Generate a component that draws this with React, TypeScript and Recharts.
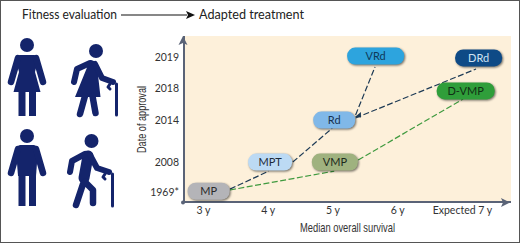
import React from 'react';
import { ScatterChart, Scatter, XAxis, YAxis, CartesianGrid } from 'recharts';

// x = median overall survival in years, y = position on the (uneven) approval date axis
const survivalTicks = [3, 4, 5, 6, 7];
const survivalLabels = ['3 y', '4 y', '5 y', '6 y', 'Expected 7 y'];
const approvalTicks = [0, 1, 2.4, 3.47, 4.5];
const approvalLabels = ['1969*', '2008', '2014', '2018', '2019'];

const regimens = ['MP', 'MPT', 'VMP', 'Rd', 'D-VMP', 'VRd', 'DRd'];
const regimenSurvival = [3.08, 4.03, 5.03, 5.02, 7.05, 5.66, 7.25];
const regimenApproval = [0.03, 1, 1, 2.4, 3.37, 4.53, 4.47];

const navyLinks = [
  [[3.41, 0.1], [4.01, 0.7]],
  [[4.38, 1], [4.99, 2.13]],
  [[5.35, 2.57], [5.65, 4.17]],
  [[5.35, 2.47], [7.21, 4.1]],
];
const greenLinks = [
  [[3.41, 0.07], [5.02, 0.7]],
  [[5.39, 1.07], [7.01, 3.1]],
];
const arrowTips = [[5.34, 2.5]];

const pillStyles: Record<string, { w: number; fill: string; text: string }> = {
  MP: { w: 42, fill: '#b4b4b8', text: '#2a2a2a' },
  MPT: { w: 44, fill: '#bcdaf4', text: '#1c2a3a' },
  VMP: { w: 46, fill: '#9fb27f', text: '#1c2a1c' },
  Rd: { w: 42, fill: '#80b8e8', text: '#17324f' },
  'D-VMP': { w: 58, fill: '#2f9e3a', text: '#0f2f14' },
  VRd: { w: 57, fill: '#2da4de', text: '#0f3a5a' },
  DRd: { w: 47, fill: '#0e4a86', text: '#cfe2f2' },
};

const regimenData = regimens.map((name, i) => ({ name, x: regimenSurvival[i], y: regimenApproval[i] }));
const toPoints = (link: number[][]) => link.map(([x, y]) => ({ x, y }));

const font = 'Lato, "Open Sans", sans-serif';
const narrow = '"Liberation Sans", sans-serif';
const axisColor = '#5a6377';
const navy = '#14246b';

const Pill = (props: any) => {
  const { cx, cy, payload } = props;
  const s = pillStyles[payload.name];
  return (
    <g>
      <rect
        x={cx - s.w / 2}
        y={cy - 8.5}
        width={s.w}
        height={17}
        rx={8}
        fill={s.fill}
        style={{ filter: 'drop-shadow(1.5px 1.5px 1px rgba(0,0,0,0.55))' }}
      />
      <text x={cx} y={cy + 4} textAnchor="middle" fontFamily={font} fontSize={11} fill={s.text}>
        {payload.name}
      </text>
    </g>
  );
};

const Hidden = () => <g />;

const ArrowTip = (props: any) => {
  const { cx, cy } = props;
  return <path d={`M${cx} ${cy} L${cx + 6} ${cy - 5} L${cx + 6} ${cy + 0.5} Z`} fill="#1d3a55" />;
};

const limb = { fill: 'none', stroke: navy, strokeLinecap: 'round', strokeLinejoin: 'round' } as const;

const Overlay = () => (
  <svg width={520} height={243} style={{ position: 'absolute', left: 0, top: 0 }}>
    <text x={22} y={19} fontFamily={font} fontSize={14} textLength={95} lengthAdjust="spacingAndGlyphs" fill="#222">
      Fitness evaluation
    </text>
    <text x={199} y={19} fontFamily={font} fontSize={14} textLength={105} lengthAdjust="spacingAndGlyphs" fill="#222">
      Adapted treatment
    </text>
    <line x1={121} y1={15} x2={187} y2={15} stroke="#111" strokeWidth={1.2} />
    <path d="M186 11 L195 15 L186 19 L188 15 Z" fill="#111" />

    <text x={300} y={232} fontFamily={narrow} fontSize={13} textLength={95} lengthAdjust="spacingAndGlyphs" fill="#333">
      Median overall survival
    </text>
    <text
      transform="translate(146 153) rotate(-90)"
      fontFamily={narrow}
      fontSize={13}
      textLength={67}
      lengthAdjust="spacingAndGlyphs"
      fill="#333"
    >
      Date of approval
    </text>

    {/* axis arrows */}
    <path d="M183 36 L187.5 45 L183 43 L178.5 45 Z" fill={axisColor} />
    <path d="M510 202.5 L501 198 L503 202.5 L501 207 Z" fill={axisColor} />
    <circle cx={183} cy={202.5} r={2} fill={axisColor} />

    {/* woman */}
    <circle cx={27} cy={45} r={7} fill={navy} />
    <path d="M20 55 L34 55 Q38 56 38 60 L35 72 L40.5 92 L13.5 92 L19 72 L16 60 Q16 56 20 55 Z" fill={navy} />
    <path d="M18 58 L11 82 M36 58 L43 82" {...limb} strokeWidth={6.5} />
    <rect x={18.5} y={91} width={7} height={25} fill={navy} />
    <rect x={29} y={91} width={7} height={25} fill={navy} />

    {/* man */}
    <circle cx={27} cy={136} r={7} fill={navy} />
    <path d="M20 145 L34 145 Q38 146 38 150 L36 176 L18 176 L16 150 Q16 146 20 145 Z" fill={navy} />
    <path d="M18 149 L11 173 M36 149 L43 173" {...limb} strokeWidth={6.5} />
    <rect x={18.5} y={175} width={7} height={31} fill={navy} />
    <rect x={29} y={175} width={7} height={31} fill={navy} />

    {/* older woman */}
    <circle cx={96} cy={51} r={7} fill={navy} />
    <path d="M90 60 Q96 60 97 66 L100.5 97 L75 97 L86 70 Z" fill={navy} />
    <path d="M90 63 L77 69 L74 82" {...limb} strokeWidth={6} />
    <path d="M95 64 L102 78 L113 82" {...limb} strokeWidth={6} />
    <path d="M85 96 L80 114 M92.5 96 L95.5 113" {...limb} strokeWidth={6.5} />
    <path d="M110 84 L108 87 L110 89 M116.5 84 L116.5 115" {...limb} strokeWidth={3} />

    {/* older man */}
    <circle cx={91.5} cy={141} r={7} fill={navy} />
    <path d="M88 156 L84 178" {...limb} strokeWidth={11} />
    <path d="M85 154 L72 161 L70 172" {...limb} strokeWidth={6} />
    <path d="M90 155 L97 168 L109 172" {...limb} strokeWidth={6} />
    <path d="M83 184 L76 205 M85 182 L93 190 L93 203" {...limb} strokeWidth={6.5} />
    <path d="M105 174 L103 177 L105 179 M112.5 174 L112.5 206" {...limb} strokeWidth={3} />
  </svg>
);

const App = () => {
  return (
    <div style={{ position: 'absolute', left: 0, top: 0, width: 520, height: 243, background: '#fff' }}>
      <ScatterChart
        width={520}
        height={243}
        margin={{ top: 36, right: 9, bottom: 0, left: 0 }}
        style={{ position: 'absolute', left: 0, top: 0 }}
      >
        <CartesianGrid horizontal={false} vertical={false} fill="#fdf0da" />
        <XAxis
          type="number"
          dataKey="x"
          domain={[2.7, 7.75]}
          ticks={survivalTicks}
          tickFormatter={(v: number) => survivalLabels[survivalTicks.indexOf(v)]}
          height={41}
          tickLine={false}
          tickSize={0}
          tickMargin={5}
          interval={0}
          axisLine={{ stroke: axisColor, strokeWidth: 2 }}
          tick={{ fontFamily: font, fontSize: 10.5, fill: '#333' }}
        />
        <YAxis
          type="number"
          dataKey="y"
          domain={[-0.33, 5.2]}
          ticks={approvalTicks}
          tickFormatter={(v: number) => approvalLabels[approvalTicks.indexOf(v)]}
          width={184}
          tickLine={false}
          tickSize={0}
          tickMargin={5}
          interval={0}
          axisLine={{ stroke: axisColor, strokeWidth: 2 }}
          tick={{ fontFamily: font, fontSize: 10.5, fill: '#333' }}
        />
        {navyLinks.map((link, i) => (
          <Scatter
            key={'navy' + i}
            data={toPoints(link)}
            line={{ stroke: '#1d3a55', strokeWidth: 1.2, strokeDasharray: '6 2.5' }}
            shape={Hidden}
            isAnimationActive={false}
          />
        ))}
        {greenLinks.map((link, i) => (
          <Scatter
            key={'green' + i}
            data={toPoints(link)}
            line={{ stroke: '#3f9a3f', strokeWidth: 1.2, strokeDasharray: '6 2.5' }}
            shape={Hidden}
            isAnimationActive={false}
          />
        ))}
        <Scatter data={regimenData} shape={Pill} isAnimationActive={false} />
        <Scatter data={toPoints(arrowTips)} shape={ArrowTip} isAnimationActive={false} />
      </ScatterChart>
      <Overlay />
      <div style={{ position: 'absolute', left: 0, top: 0, width: 518, height: 241, border: '1px solid #555' }} />
    </div>
  );
};

export default App;
